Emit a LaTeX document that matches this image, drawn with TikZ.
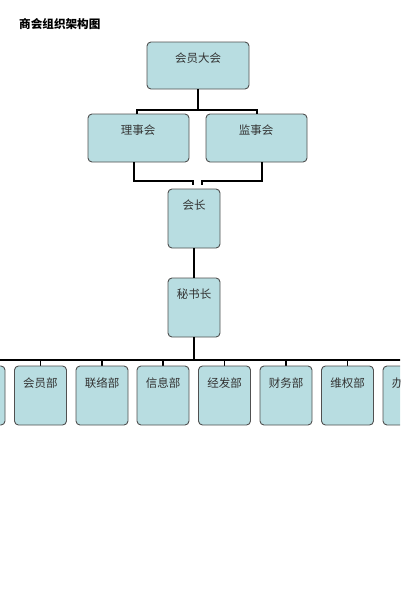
\documentclass[tikz,border=0pt]{standalone}
\usepackage{fontspec}
\newfontfamily\cjk{Noto Sans CJK SC}
\definecolor{boxfill}{HTML}{B8DDE1}
\definecolor{boxline}{HTML}{505050}
\definecolor{txt}{HTML}{333333}
\tikzset{
  orgbox/.style={draw=boxline, line width=0.9pt, fill=boxfill, rounded corners=4pt},
  lbl/.style={font=\cjk\fontsize{11.5}{13}\selectfont, text=txt, inner sep=0pt},
  conn/.style={draw=black, line width=1.6pt}
}
\begin{document}
\begin{tikzpicture}[x=1pt,y=-1pt]
\useasboundingbox (0,0) rectangle (400,608);
\fill[white] (0,0) rectangle (400,608);
\clip (0,0) rectangle (400,608);
\node[anchor=west, font=\cjk\bfseries\fontsize{11.6}{13}\selectfont, inner sep=0pt] (title) at (19,24) {商会组织架构图};
% boxes
\draw[orgbox] (147,42) rectangle (249,89);
\node[lbl] (hy) at (198,58) {会员大会};
\coordinate (hyB) at (198,89);
\draw[orgbox] (88,114) rectangle (189,162);
\node[lbl] (ls) at (138,130) {理事会};
\draw[orgbox] (206,114) rectangle (307,162);
\node[lbl] (js) at (256,130) {监事会};
\draw[orgbox] (168,189) rectangle (220,248);
\node[lbl] (hz) at (194,205) {会长};
\draw[orgbox] (168,278) rectangle (220,337);
\node[lbl] (ms) at (194,294) {秘书长};
% connectors
\coordinate (j1) at (198,110);
\coordinate (lsT) at (137,114);
\coordinate (jsT) at (257,114);
\draw[conn] (hyB) -- (j1);
\draw[conn] (lsT) -- (137,110) -- (257,110) -- (jsT);
\coordinate (lsB) at (134,162);
\coordinate (jsB) at (262,162);
\draw[conn] (lsB) -- (134,181) -- (193,181) -- (193,185);
\draw[conn] (jsB) -- (262,181) -- (202,181) -- (202,185);
\coordinate (hzB) at (194,248);
\coordinate (msT) at (194,278);
\draw[conn] (hzB) -- (msT);
\coordinate (msB) at (194,337);
\coordinate (bar) at (194,360);
\draw[conn] (msB) -- (bar);
\draw[conn] (-10,360) -- (410,360);
% bottom row
\foreach \cx/\t/\n in {-21//d0, 40.5/会员部/d1, 102/联络部/d2, 163/信息部/d3, 224.5/经发部/d4, 286/财务部/d5, 347.5/维权部/d6, 409/办公室/d7} {
  \draw[conn, line width=1.2pt] (\cx,360) -- (\cx,366);
  \draw[orgbox] (\cx-26,366) rectangle (\cx+26,425);
  \node[lbl] (\n) at (\cx,383) {\t};
}
\end{tikzpicture}
\end{document}
